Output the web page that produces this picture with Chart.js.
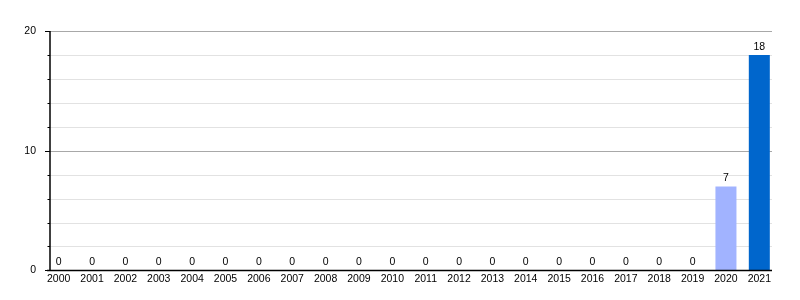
<!DOCTYPE html>
<html>
<head>
<meta charset="utf-8">
<script src="https://cdn.jsdelivr.net/npm/chart.js@4/dist/chart.umd.min.js"></script>
<style>
  html, body { margin: 0; padding: 0; background: #fff; }
  #wrap { width: 800px; height: 300px; }
</style>
</head>
<body>
<div id="wrap"><canvas id="yearChart"></canvas></div>
<script>
// values
const years = ["2000", "2001", "2002", "2003", "2004", "2005", "2006", "2007", "2008", "2009", "2010",
               "2011", "2012", "2013", "2014", "2015", "2016", "2017", "2018", "2019", "2020", "2021"];
const counts = [0, 0, 0, 0, 0, 0, 0, 0, 0, 0, 0, 0, 0, 0, 0, 0, 0, 0, 0, 0, 7, 18];
const yTicks = [0, 10, 20];

const lightBlue = "#a1b3ff";
const darkBlue = "#0066cc";
const barColors = counts.map((v, i) => i === counts.length - 1 ? darkBlue : lightBlue);

const AXIS_X = 50;
const FONT = "'Liberation Sans', Arial, sans-serif";

// gridlines + axis lines, drawn from the y scale
const axesPlugin = {
  id: "axesPlugin",
  beforeDatasetsDraw(chart) {
    const { ctx, chartArea } = chart;
    const y = chart.scales.y;
    const right = chartArea.right - 4;
    ctx.save();
    for (let v = y.min; v <= y.max; v += 2) {
      const py = Math.round(y.getPixelForValue(v)) + 0.5;
      const major = yTicks.includes(v);
      ctx.strokeStyle = major ? "#a8a8a8" : "#e2e2e2";
      ctx.lineWidth = 1;
      ctx.beginPath();
      ctx.moveTo(AXIS_X, py);
      ctx.lineTo(right, py);
      ctx.stroke();
      // tick marks left of the axis
      ctx.strokeStyle = "#000";
      ctx.beginPath();
      ctx.moveTo(AXIS_X - (major ? 5 : 2.5), py);
      ctx.lineTo(AXIS_X, py);
      ctx.stroke();
    }
    ctx.restore();
  },
  afterDatasetsDraw(chart) {
    const { ctx, chartArea } = chart;
    const y = chart.scales.y;
    const top = y.getPixelForValue(y.max);
    const bottom = y.getPixelForValue(0);
    ctx.save();
    ctx.strokeStyle = "#000";
    ctx.lineWidth = 1.5;
    ctx.beginPath();
    ctx.moveTo(AXIS_X, top);
    ctx.lineTo(AXIS_X, bottom);
    ctx.stroke();
    ctx.beginPath();
    ctx.moveTo(AXIS_X - 3, bottom);
    ctx.lineTo(chartArea.right - 4, bottom);
    ctx.stroke();

    // value labels above bars
    ctx.fillStyle = "#000";
    ctx.font = "10.5px " + FONT;
    ctx.textAlign = "center";
    ctx.textBaseline = "bottom";
    const meta = chart.getDatasetMeta(0);
    meta.data.forEach((bar, i) => {
      ctx.fillText(String(counts[i]), bar.x, bar.y - 3);
    });
    ctx.restore();
  }
};

new Chart(document.getElementById("yearChart"), {
  type: "bar",
  data: {
    labels: years,
    datasets: [{
      data: counts,
      backgroundColor: barColors,
      borderWidth: 0,
      categoryPercentage: 1,
      barPercentage: 0.63
    }]
  },
  options: {
    responsive: true,
    maintainAspectRatio: false,
    animation: false,
    layout: { padding: { left: 0, right: 24, top: 31, bottom: 13 } },
    plugins: {
      legend: { display: false },
      tooltip: { enabled: false }
    },
    scales: {
      x: {
        grid: { display: false, drawTicks: false },
        border: { display: false },
        ticks: {
          color: "#000",
          font: { family: FONT, size: 10.5 },
          maxRotation: 0,
          autoSkip: false,
          padding: 2
        }
      },
      y: {
        min: 0,
        max: 20,
        afterFit(scale) { scale.width = 42; },
        grid: { display: false, drawTicks: false },
        border: { display: false },
        ticks: {
          stepSize: 2,
          color: "#000",
          font: { family: FONT, size: 10.5 },
          padding: 6,
          callback: v => yTicks.includes(v) ? String(v) : ""
        }
      }
    }
  },
  plugins: [axesPlugin]
});
</script>
</body>
</html>
